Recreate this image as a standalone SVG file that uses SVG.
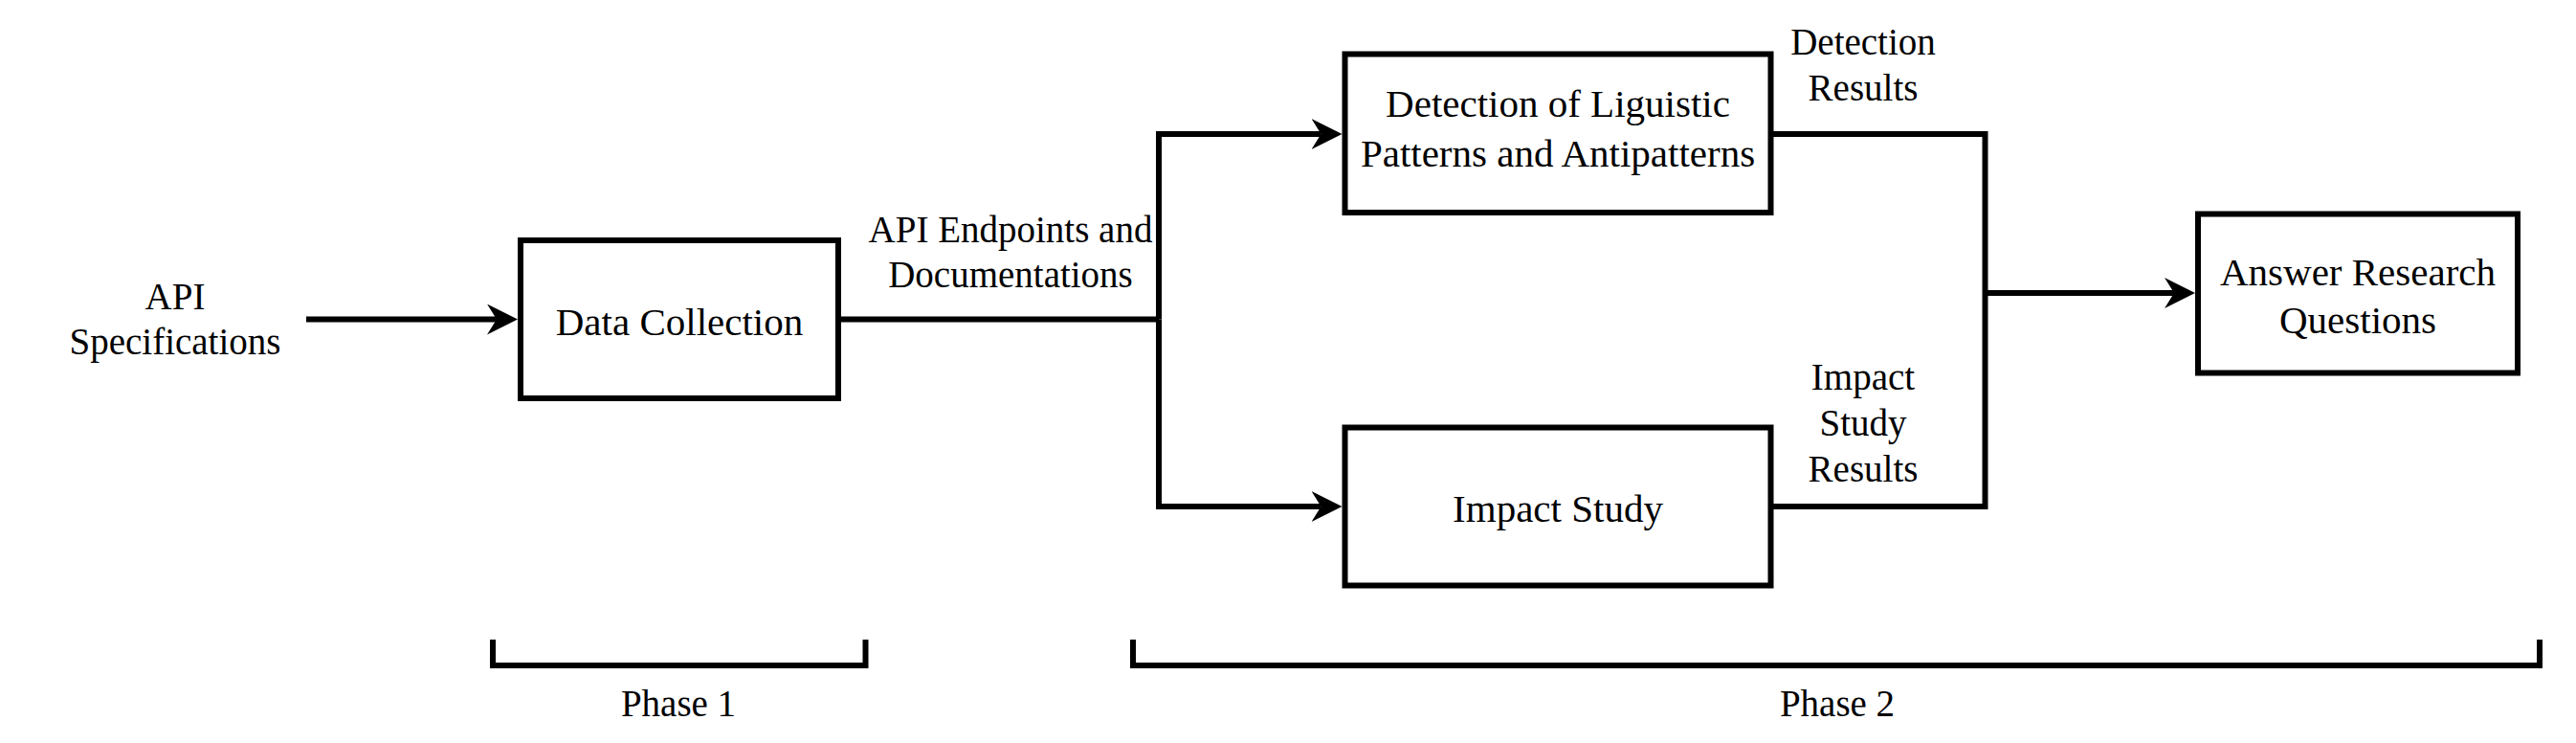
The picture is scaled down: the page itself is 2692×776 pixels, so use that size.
<svg xmlns="http://www.w3.org/2000/svg" width="2692" height="776" viewBox="0 0 2692 776">
  <style>
    .box { fill: #ffffff; stroke: #000000; stroke-width: 6; }
    .conn { fill: none; stroke: #000000; stroke-width: 6; stroke-linejoin: miter; }
    .node { font-family: "Liberation Serif", "Times New Roman", serif; font-size: 41px; fill: #000000; text-anchor: middle; }
    .lbl { font-family: "Liberation Serif", "Times New Roman", serif; font-size: 39px; fill: #000000; text-anchor: middle; }
  </style>
  <defs>
    <marker id="arrow" markerUnits="userSpaceOnUse" markerWidth="32" markerHeight="32" viewBox="0 -16 32 32" refX="10" refY="0" orient="auto">
      <path d="M32,0 L0,-16 L10,0 L0,16 Z" fill="#000000"/>
    </marker>
  </defs>
  <rect width="2692" height="776" fill="#ffffff"/>

  <g id="connectors">
    <path class="conn" d="M320,333.5 H519" marker-end="url(#arrow)"/>
    <path class="conn" d="M876,333.5 H1211"/>
    <path class="conn" d="M1211,333.5 V140 H1380.5" marker-end="url(#arrow)"/>
    <path class="conn" d="M1211,333.5 V529 H1380.5" marker-end="url(#arrow)"/>
    <path class="conn" d="M1850.5,140 H2074.5 V306"/>
    <path class="conn" d="M1850.5,529 H2074.5 V306"/>
    <path class="conn" d="M2074.5,306 H2272" marker-end="url(#arrow)"/>
    <text class="lbl" x="183" y="323">API</text>
    <text class="lbl" x="183" y="370">Specifications</text>
    <text class="lbl" x="1056" y="253">API Endpoints and</text>
    <text class="lbl" x="1056" y="300">Documentations</text>
    <text class="lbl" x="1947" y="57">Detection</text>
    <text class="lbl" x="1947" y="105">Results</text>
    <text class="lbl" x="1947" y="407">Impact</text>
    <text class="lbl" x="1947" y="455">Study</text>
    <text class="lbl" x="1947" y="503">Results</text>
  </g>

  <g id="data-collection">
    <rect class="box" x="544" y="251" width="332" height="165"/>
    <text class="node" x="710" y="350">Data Collection</text>
  </g>

  <g id="detection">
    <rect class="box" x="1405.5" y="56.5" width="445" height="165.5"/>
    <text class="node" x="1628" y="122">Detection of Liguistic</text>
    <text class="node" x="1628" y="174">Patterns and Antipatterns</text>
  </g>

  <g id="impact-study">
    <rect class="box" x="1405.5" y="446.5" width="445" height="165"/>
    <text class="node" x="1628" y="545">Impact Study</text>
  </g>

  <g id="answer">
    <rect class="box" x="2297" y="223.5" width="334" height="166"/>
    <text class="node" x="2464" y="298">Answer Research</text>
    <text class="node" x="2464" y="348">Questions</text>
  </g>

  <g id="phase-1">
    <path class="conn" d="M515,668 V695 H904.5 V668"/>
    <text class="lbl" x="709" y="748">Phase 1</text>
  </g>

  <g id="phase-2">
    <path class="conn" d="M1184,668 V695 H2654 V668"/>
    <text class="lbl" x="1920" y="748">Phase 2</text>
  </g>
</svg>
